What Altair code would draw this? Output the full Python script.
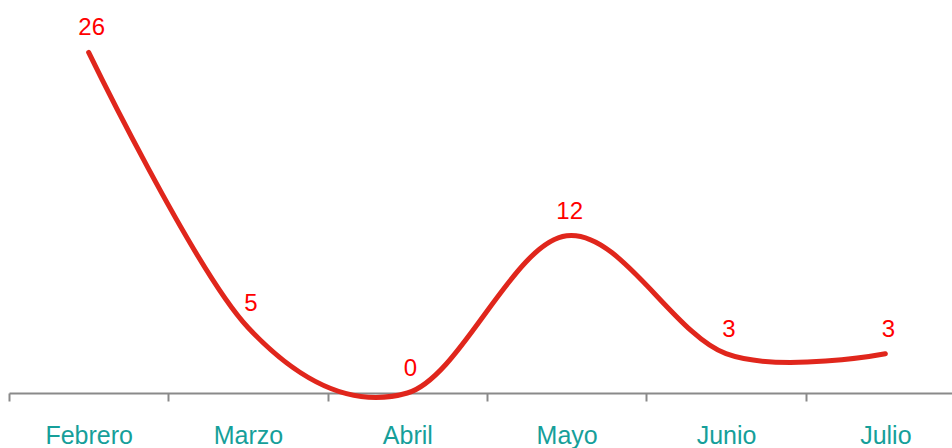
import altair as alt
import pandas as pd

# Monthly counts
meses = ["Febrero", "Marzo", "Abril", "Mayo", "Junio", "Julio"]
valores = [26, 5, 0, 12, 3, 3]

df = pd.DataFrame({"mes": meses, "valor": valores})

FONT = "Liberation Sans"
LINE_RED = "#e0261c"
TEXT_RED = "#ff0000"
TEAL = "#169f9a"
GREY = "#8a8a8a"

x = alt.X(
    "mes:N",
    sort=meses,
    bandPosition=0.5,
    scale=alt.Scale(type="band", range=[0, 956], paddingInner=0, paddingOuter=0),
    axis=alt.Axis(
        title=None,
        labelAngle=0,
        labelFont=FONT,
        labelFontSize=25,
        labelColor=TEAL,
        labelBaseline="alphabetic",
        labelPadding=42,
        labelFlush=False,
        labelOverlap=False,
        tickBand="extent",
        tickColor=GREY,
        tickWidth=2,
        tickSize=8,
        domainColor=GREY,
        domainWidth=2,
        grid=False,
    ),
)
y = alt.Y("valor:Q", scale=alt.Scale(domain=[0, 30]), axis=None)

line = alt.Chart().mark_line(
    interpolate="cardinal",
    tension=0,
    color=LINE_RED,
    strokeWidth=5,
    strokeCap="round",
    strokeJoin="round",
    clip=False,
).encode(x=x, y=y)

labels = alt.Chart().mark_text(
    font=FONT,
    fontSize=24,
    color=TEXT_RED,
    baseline="alphabetic",
    align="center",
    dx=3,
    dy=-17,
).encode(x=x, y=y, text="valor:Q")

chart = (
    alt.layer(line, labels, data=df)
    .properties(
        width=943,
        height=393,
        background="white",
        autosize=alt.AutoSizeParams(type="none"),
        padding={"left": 9, "top": 0, "right": 0, "bottom": 55},
    )
    .configure_view(strokeWidth=0, stroke="transparent")
)

chart.save("out.html", embed_options={"renderer": "svg", "actions": False})
